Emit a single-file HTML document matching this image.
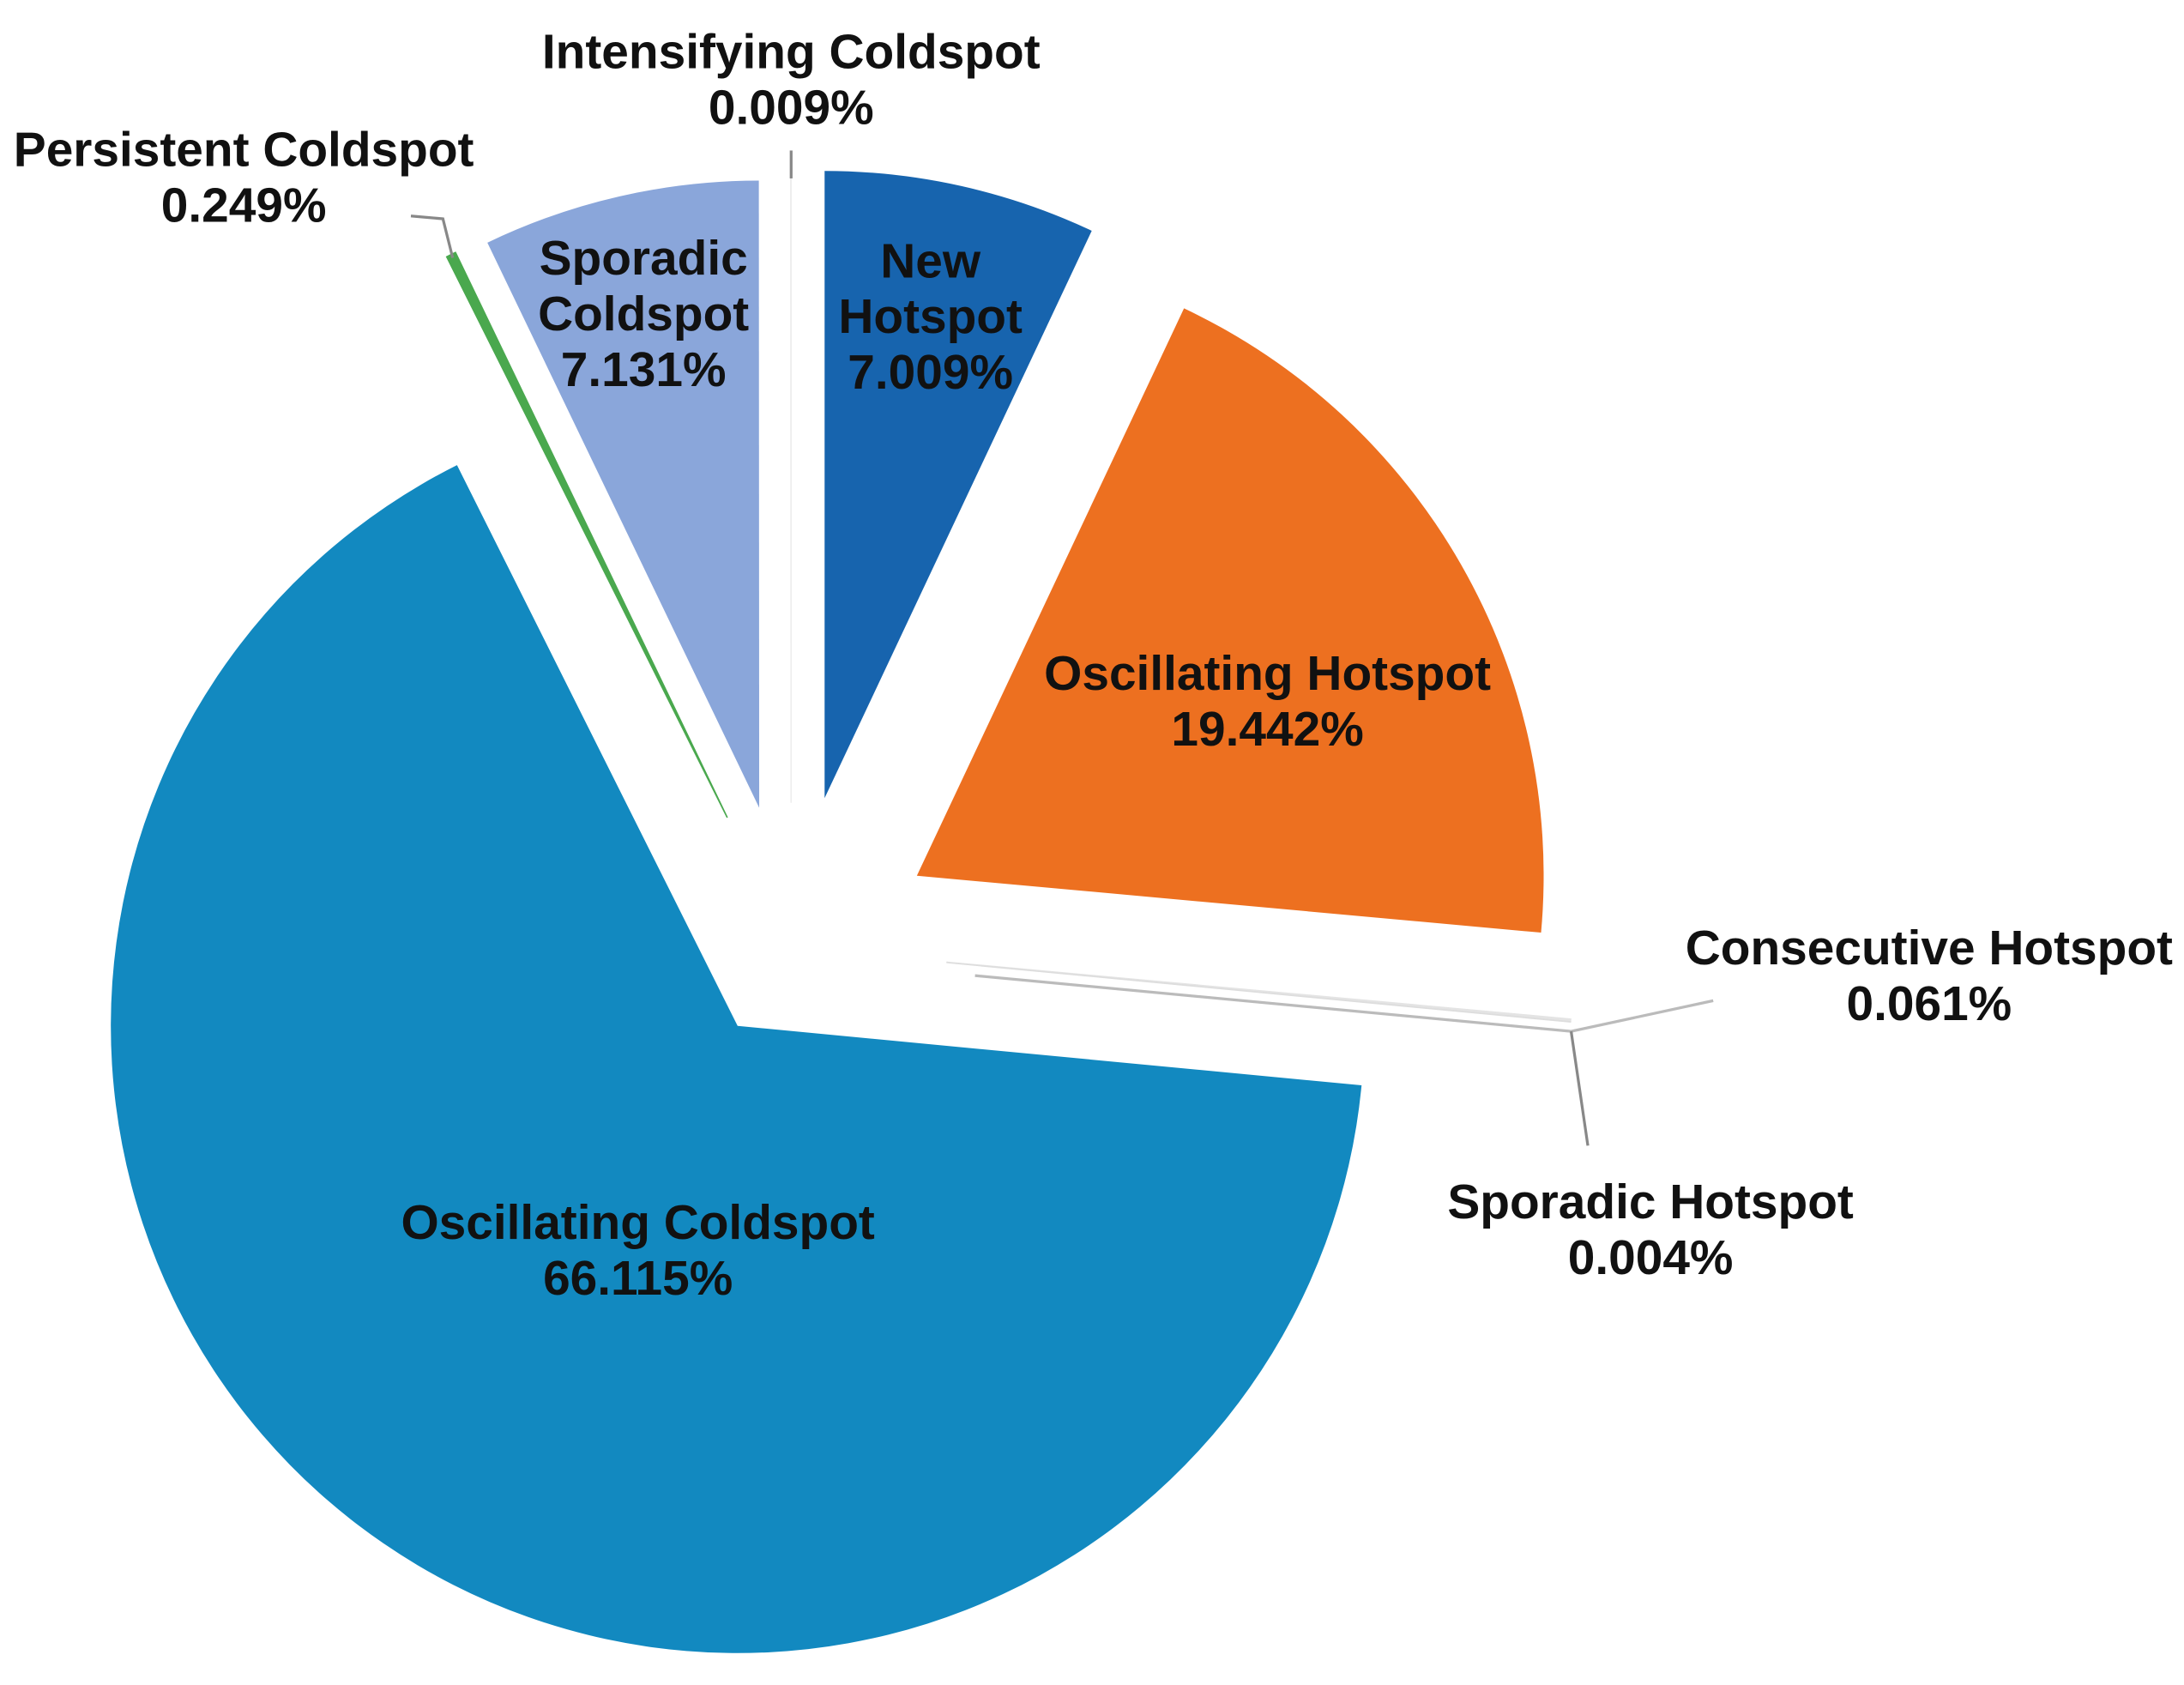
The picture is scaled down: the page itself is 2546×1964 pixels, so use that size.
<!DOCTYPE html>
<html><head><meta charset="utf-8"><style>
html,body{margin:0;padding:0;background:#fff;}
svg{display:block;}
text{font-family:"Liberation Sans Narrow","Liberation Sans",sans-serif;font-weight:bold;font-size:35px;fill:#111;text-anchor:middle;}
</style></head><body>
<svg id="chart" width="2546" height="1964" viewBox="0 0 1568 1209" preserveAspectRatio="none" xmlns="http://www.w3.org/2000/svg">
<g id="slices"></g>
<g id="leaders" stroke="#888" stroke-width="2" fill="none">
<polyline points="295,155 318,157 325,185"/>
<line x1="568" y1="108" x2="568" y2="128"/>
<polyline points="700,700 1128,740 1230,718" stroke="#bbb"/>
<line x1="1128" y1="740" x2="1140" y2="822"/>
</g>
<g id="labels"></g>
</svg>
<script>
const categories=["New Hotspot","Oscillating Hotspot","Consecutive Hotspot","Sporadic Hotspot","Oscillating Coldspot","Persistent Coldspot","Sporadic Coldspot","Intensifying Coldspot"];
const values=[7.009,19.442,0.061,0.004,66.115,0.249,7.131,0.009];
const valueLabels=["7.009%","19.442%","0.061%","0.004%","66.115%","0.249%","7.131%","0.009%"];
const colors=["#1764ae","#ed7020","#e4e4e4","#dddddd","#1289c0","#4aa84e","#8aa6da","#eeeeee"];
const explode=[110,104,112,112,68,104,103,104];
const labelLines=[["New","Hotspot"],["Oscillating Hotspot"],["Consecutive Hotspot"],["Sporadic Hotspot"],["Oscillating Coldspot"],["Persistent Coldspot"],["Sporadic","Coldspot"],["Intensifying Coldspot"]];
const labelPos=[[668,187],[910,483],[1385,680],[1185,862],[458,877],[175,107],[462,185],[568,37]];
const CX=568,CY=680,R=450,LH=40;
const NS="http://www.w3.org/2000/svg";
const total=values.reduce((a,b)=>a+b,0);
const gs=document.getElementById('slices'),gl=document.getElementById('labels');
function pt(cx,cy,r,a){return [cx+r*Math.sin(a),cy-r*Math.cos(a)];}
let cum=0;
values.forEach((v,i)=>{
  const a0=cum/total*2*Math.PI;cum+=v;const a1=cum/total*2*Math.PI;
  const mid=(a0+a1)/2;
  const [ax,ay]=pt(CX,CY,explode[i],mid);
  const p0=pt(ax,ay,R,a0),p1=pt(ax,ay,R,a1);
  const large=(a1-a0)>Math.PI?1:0;
  const p=document.createElementNS(NS,'path');
  p.setAttribute('d',`M${ax},${ay}L${p0[0]},${p0[1]}A${R},${R} 0 ${large} 1 ${p1[0]},${p1[1]}Z`);
  p.setAttribute('fill',colors[i]);
  if(v<0.5){p.setAttribute('stroke',colors[i]);p.setAttribute('stroke-width','1');}
  
  
  gs.appendChild(p);
  const t=document.createElementNS(NS,'text');
  
  
  const lines=labelLines[i].concat([valueLabels[i]]);
  lines.forEach((s,k)=>{
    const ts=document.createElementNS(NS,'tspan');
    ts.setAttribute('x',labelPos[i][0]);
    ts.setAttribute('y',labelPos[i][1]+12+k*LH);
    ts.textContent=s;t.appendChild(ts);
  });
  gl.appendChild(t);
});
</script>
</body></html>
